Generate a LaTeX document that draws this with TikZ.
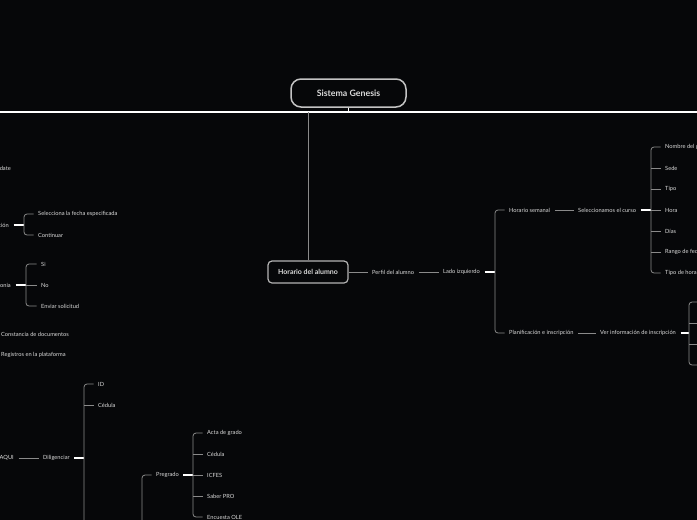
\documentclass[tikz,border=0pt]{standalone}
\usepackage{fontspec}
\setmainfont{Lato}
\definecolor{bg}{HTML}{060709}
\definecolor{ln}{HTML}{8A8A8A}
\definecolor{tx}{HTML}{DADADA}
\definecolor{bx}{HTML}{B4B4B4}
\begin{document}
\begin{tikzpicture}[x=1pt,y=-1pt,
  leaf/.style={text=tx, font=\fontsize{5.7}{6}\selectfont, inner xsep=4.5pt, inner ysep=1pt, anchor=west, xshift=-4.5pt},
  leafe/.style={text=tx, font=\fontsize{5.7}{6}\selectfont, inner xsep=4.5pt, inner ysep=1pt, anchor=east, xshift=4.5pt},
  link/.style={draw=ln, line width=0.8pt},
  hub/.style={draw=white, line width=1.6pt},
  brk/.style={draw=ln, line width=0.8pt, rounded corners=3pt},
  topic/.style={draw=bx, line width=1.2pt, rounded corners=4pt, text=tx, inner sep=0pt},
]
\useasboundingbox (0,0) rectangle (697,520);
\fill[bg] (0,0) rectangle (697,520);
\clip (0,0) rectangle (697,520);

% top
\node[topic, draw=bx!80!white, line width=1.5pt, rounded corners=10pt, minimum width=115pt, minimum height=28pt, font=\bfseries\fontsize{8.8}{9}\selectfont] (genesis) at (348.5,93) {Sistema Genesis};
\coordinate (tl) at (0,112);
\coordinate (tr) at (697,112);
\coordinate (tg) at (348.5,112);
\coordinate (th) at (308,112);
\draw[hub] (tl) -- (tr);
\draw[hub] (genesis.south) -- (tg);

\node[topic, minimum width=80pt, minimum height=22pt, font=\bfseries\fontsize{7}{7}\selectfont] (horario) at (308,272) {Horario del alumno};
\draw[link] (horario.north) -- (th);

% right side
\node[leaf] (perfil) at (372,272) {Perfil del alumno};
\node[leaf] (lado) at (443,272) {Lado izquierdo};
\draw[link] (horario.east) -- (perfil.west);
\draw[link] (perfil.east) -- (lado.west);

\coordinate (lb) at (495,272);
\node[leaf] (horsem) at (509,210) {Horario semanal};
\node[leaf] (planif) at (509,333) {Planificación e inscripción};
\draw[hub] (lado.east) -- (lb);
\draw[brk] (horsem.west) -| (lb) |- (planif.west);

\node[leaf] (selcurso) at (578,210) {Seleccionamos el curso};
\draw[link] (horsem.east) -- (selcurso.west);
\coordinate (sb) at (651,210);
\draw[hub] (selcurso.east) -- (sb);
\node[leaf] (s1) at (665,147) {Nombre del programa};
\node[leaf] (s2) at (665,168) {Sede};
\node[leaf] (s3) at (665,189) {Tipo};
\node[leaf] (s4) at (665,210) {Hora};
\node[leaf] (s5) at (665,231) {Días};
\node[leaf] (s6) at (665,252) {Rango de fechas};
\node[leaf] (s7) at (665,273) {Tipo de horario};
\draw[brk] (s1.west) -| (sb) |- (s7.west);
\foreach \n in {s2,s3,s4,s5,s6} \draw[link] (\n.west) -- (\n.west -| sb);

\node[leaf] (verinfo) at (600,333) {Ver información de inscripción};
\draw[link] (planif.east) -- (verinfo.west);
\coordinate (vb) at (689,333);
\draw[hub] (verinfo.east) -- (vb);
\coordinate (v1) at (702,302);
\coordinate (v2) at (702,323);
\coordinate (v3) at (702,344);
\coordinate (v4) at (702,365);
\draw[brk] (v1) -| (vb) |- (v4);
\draw[link] (v2) -- (v2 -| vb);
\draw[link] (v3) -- (v3 -| vb);

% left side
\node[leafe] (date) at (11,168) {date};

\node[leafe] (cion) at (9,225) {ción};
\coordinate (cb) at (24,225);
\draw[hub] (cion.east) -- (cb);
\node[leaf] (sel) at (38,214) {Selecciona la fecha especificada};
\node[leaf] (cont) at (38,235) {Continuar};
\draw[brk] (sel.west) -| (cb) |- (cont.west);

\node[leafe] (onia) at (11,285) {onia};
\coordinate (ob) at (26,285);
\draw[hub] (onia.east) -- (ob);
\node[leaf] (si) at (41,264) {Si};
\node[leaf] (no) at (41,285) {No};
\node[leaf] (env) at (41,306) {Enviar solicitud};
\draw[brk] (si.west) -| (ob) |- (env.west);
\draw[link] (no.west) -- (no.west -| ob);

\node[leaf] (const) at (1,334) {Constancia de documentos};
\node[leaf] (reg) at (1,355) {Registros en la plataforma};

\node[leafe] (aqui) at (14,458) {AQUI};
\node[leaf] (dil) at (43,458) {Diligenciar};
\draw[link] (aqui.east) -- (dil.west);
\coordinate (db) at (84,458);
\coordinate (dend) at (84,530);
\draw[hub] (dil.east) -- (db);
\node[leaf] (id) at (98,384) {ID};
\node[leaf] (ced) at (98,405) {Cédula};
\draw[brk] (id.west) -| (dend);
\draw[link] (ced.west) -- (ced.west -| db);

\coordinate (pend) at (142,530);
\node[leaf] (preg) at (156,475) {Pregrado};
\draw[brk] (preg.west) -| (pend);
\coordinate (pb) at (193,475);
\draw[hub] (preg.east) -- (pb);
\node[leaf] (p1) at (207,433) {Acta de grado};
\node[leaf] (p2) at (207,454) {Cédula};
\node[leaf] (p3) at (207,475) {ICFES};
\node[leaf] (p4) at (207,496) {Saber PRO};
\node[leaf] (p5) at (207,517) {Encuesta OLE};
\draw[brk] (p1.west) -| (pb) |- (p5.west);
\foreach \n in {p2,p3,p4} \draw[link] (\n.west) -- (\n.west -| pb);
\end{tikzpicture}
\end{document}
